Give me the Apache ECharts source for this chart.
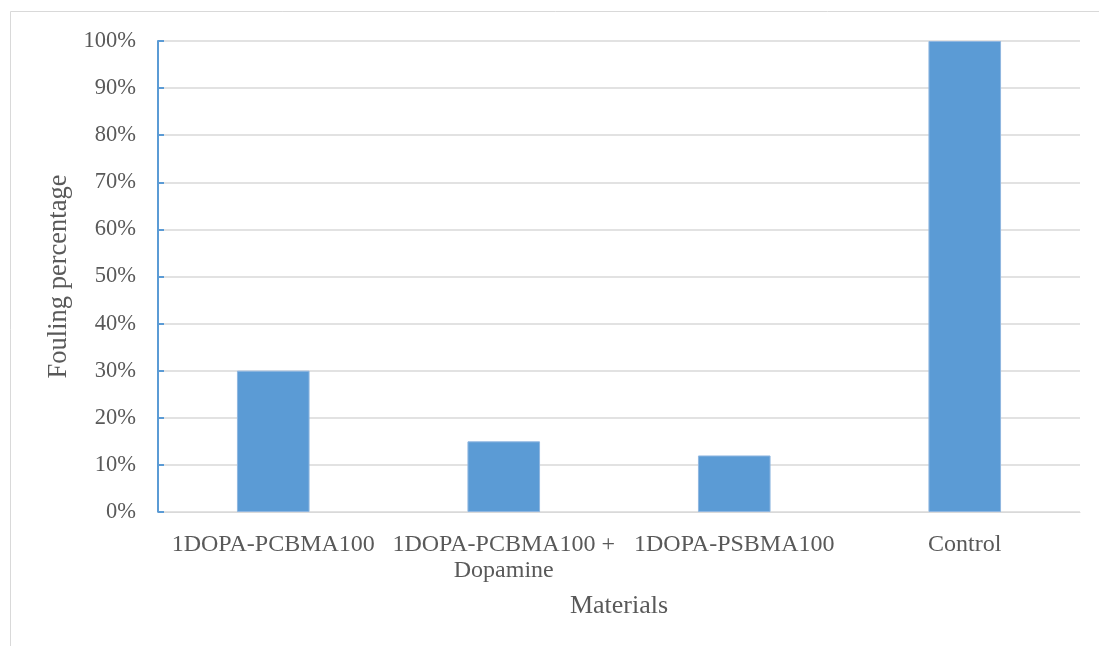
<!DOCTYPE html>
<html>
<head>
<meta charset="utf-8">
<script src="https://cdn.jsdelivr.net/npm/echarts@6/dist/echarts.min.js"></script>
<style>
  html, body { margin: 0; padding: 0; background: #fff; }
  #chart { width: 1099px; height: 646px; }
</style>
</head>
<body>
<div id="chart"></div>
<script>
// materials on the x axis
var materials = ['1DOPA-PCBMA100', '1DOPA-PCBMA100 +\nDopamine', '1DOPA-PSBMA100', 'Control'];
// fouling percentage, 0..1
var fouling = [0.30, 0.15, 0.12, 1.00];
var yTicks = [0, 0.1, 0.2, 0.3, 0.4, 0.5, 0.6, 0.7, 0.8, 0.9, 1.0];

var font = 'Liberation Serif, Times New Roman, serif';
var myChart = echarts.init(document.getElementById('chart'));

var option = {
    animation: false,
    backgroundColor: '#fff',
    graphic: [{
        type: 'rect',
        shape: { x: 10.5, y: 11.5, width: 1200, height: 1000 },
        style: { fill: 'none', stroke: '#d9d9d9', lineWidth: 1 },
        silent: true
    }],
    grid: { left: 158, right: 19, top: 41, bottom: 134 },
    xAxis: {
        type: 'category',
        data: materials,
        name: 'Materials',
        nameLocation: 'middle',
        nameGap: 81,
        nameTextStyle: { fontFamily: font, fontSize: 26, color: '#595959' },
        axisLine: { show: true, lineStyle: { color: '#d9d9d9', width: 1 } },
        axisTick: { show: false },
        axisLabel: {
            interval: 0,
            margin: 20,
            fontFamily: font,
            fontSize: 24,
            lineHeight: 26,
            color: '#595959'
        }
    },
    yAxis: {
        type: 'value',
        min: yTicks[0],
        max: yTicks[yTicks.length - 1],
        interval: 0.1,
        name: 'Fouling percentage',
        nameLocation: 'middle',
        nameGap: 78,
        nameTextStyle: { fontFamily: font, fontSize: 26.5, color: '#595959' },
        axisLine: { show: true, lineStyle: { color: '#5b9bd5', width: 2 } },
        axisTick: { show: true, inside: true, length: 6, lineStyle: { color: '#5b9bd5', width: 2 } },
        splitLine: { show: true, lineStyle: { color: '#d9d9d9', width: 1.5 } },
        axisLabel: {
            margin: 22,
            fontFamily: font,
            fontSize: 22.5,
            color: '#595959',
            formatter: function (v) { return Math.round(v * 100) + '%'; }
        }
    },
    series: [{
        type: 'bar',
        data: fouling,
        barWidth: '31.5%',
        itemStyle: { color: '#5b9bd5', borderColor: '#8fb6e0', borderWidth: 1 }
    }]
};
myChart.setOption(option);
</script>
</body>
</html>
